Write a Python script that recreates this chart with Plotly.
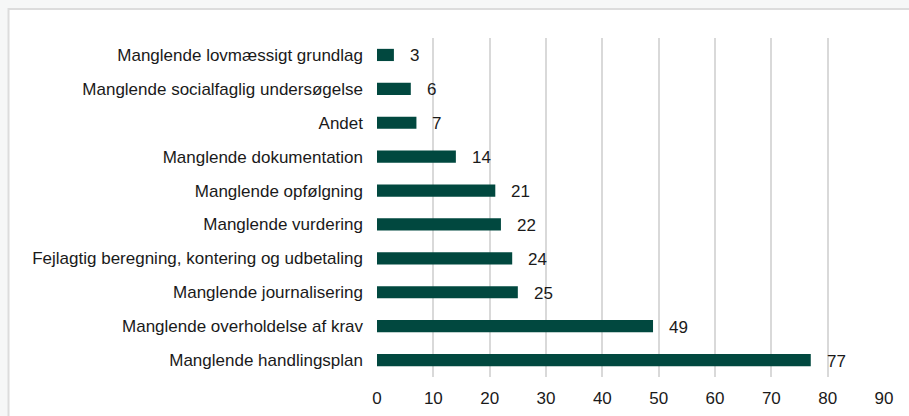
import plotly.graph_objects as go

# categories top to bottom as in the chart
categories = [
    "Manglende lovmæssigt grundlag",
    "Manglende socialfaglig undersøgelse",
    "Andet",
    "Manglende dokumentation",
    "Manglende opfølgning",
    "Manglende vurdering",
    "Fejlagtig beregning, kontering og udbetaling",
    "Manglende journalisering",
    "Manglende overholdelse af krav",
    "Manglende handlingsplan",
]
values = [3, 6, 7, 14, 21, 22, 24, 25, 49, 77]
x_ticks = [0, 10, 20, 30, 40, 50, 60, 70, 80, 90]

BAR_COLOR = "#01483f"
FONT = "Liberation Sans, Arial, sans-serif"

fig = go.Figure()
fig.add_trace(go.Bar(
    x=values,
    y=categories,
    orientation="h",
    marker=dict(color=BAR_COLOR, line=dict(width=0)),
    width=0.36,
    hoverinfo="x+y",
))

# value labels a bit right of the bar ends
for c, v in zip(categories, values):
    fig.add_annotation(
        x=v, y=c, text=str(v), showarrow=False,
        xanchor="left", xshift=14, yshift=-1,
        font=dict(family=FONT, size=17, color="#1a1a1a"),
    )

# white panel with thin border on grey page
fig.add_shape(
    type="rect", xref="paper", yref="paper",
    x0=-0.7268, x1=1.08, y0=-0.25, y1=1.0855,
    fillcolor="white", line=dict(color="#dcdcdc", width=2),
    layer="below",
)

fig.update_layout(
    width=909, height=416,
    paper_bgcolor="#f6f7f7",
    plot_bgcolor="rgba(0,0,0,0)",
    margin=dict(l=377, r=25, t=38, b=39),
    font=dict(family=FONT, size=17, color="#1a1a1a"),
    showlegend=False,
    bargap=0.64,
    xaxis=dict(
        range=[0, 90],
        tickvals=x_ticks,
        showgrid=True, gridcolor="#d9d9d9", gridwidth=1.5,
        zeroline=False, showline=False,
        ticks="", ticklabelstandoff=9,
        automargin=False, fixedrange=True,
    ),
    yaxis=dict(
        categoryorder="array",
        categoryarray=categories[::-1],
        showgrid=False, zeroline=False, showline=False,
        ticks="", ticklabelstandoff=13,
        automargin=False, fixedrange=True,
    ),
)

# drop the default body margin so the figure fills the window
fig.write_html(
    "out.html",
    config={"displayModeBar": False},
    post_script="document.body.style.margin='0';",
)
